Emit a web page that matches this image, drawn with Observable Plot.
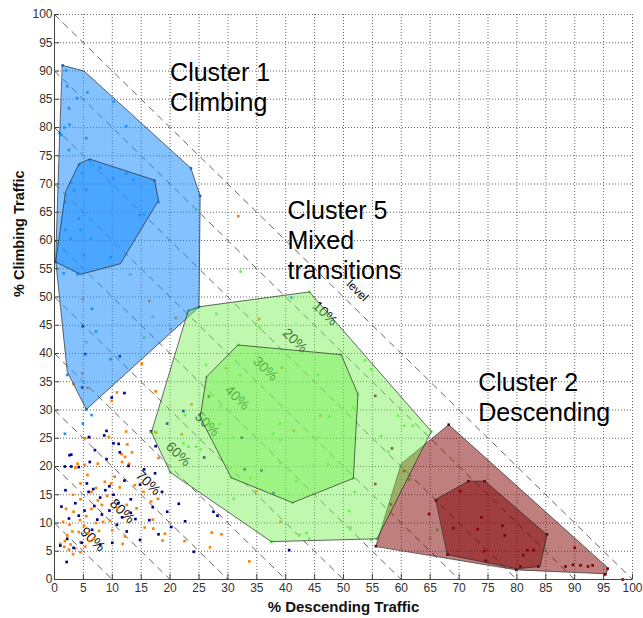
<!DOCTYPE html>
<html><head><meta charset="utf-8">
<script src="https://cdn.jsdelivr.net/npm/d3@7"></script>
<script src="https://cdn.jsdelivr.net/npm/@observablehq/plot@0.6"></script>
<style>body{margin:0;background:#fff} svg{display:block}</style>
</head><body><div id="chart"></div>
<script>
// ---- tick values ----
const axisTicks = d3.range(0, 101, 5);
// ---- level lines (x + y = sum) and their labels ----
const levelSums = [10, 20, 30, 40, 50, 60, 70, 80, 90, 100];
const levelLabels = ["level", "10%", "20%", "30%", "40%", "50%", "60%", "70%", "80%", "90%"];
const levelLabelX = [52.4, 46.8, 41.6, 36.5, 31.6, 26.4, 21.4, 16.2, 11.7, 6.6];
const levelLabelY = [51.1, 47.1, 42.3, 37.3, 32.2, 27.5, 22.2, 17.1, 12.1, 7.1];

// ---- cluster hull vertices [descending %, climbing %] ----
const c1Outer = [[1.4,91],[5.1,90],[23.6,72.8],[25.2,67.9],[25,48.2],[5.5,30.1],[2.2,36.8],[0.2,56.5],[0.9,79]];
const c1Inner = [[6.1,74.4],[17.3,70.7],[18,67.1],[11.4,55.9],[4.5,54],[0.2,56.2],[1.9,68.6],[4.2,73.5]];
const c5Outer = [[23.2,47.6],[25.2,48.3],[44.1,50.9],[65.2,26.2],[55.8,7.2],[37.5,6.7],[20,19],[16.8,26]];
const c5Inner = [[31.8,41.5],[49.6,39.8],[52.5,32.8],[51.7,17.9],[41.2,13.6],[30.6,18],[25.2,28.7],[26.3,35.8]];
const c2Outer = [[55.6,5.9],[60,20.5],[68.2,27.4],[95.7,2.1],[95.5,1],[80,1.7]];
const c2Inner = [[66,14.2],[71.6,17.4],[74.5,17.4],[85.2,7.9],[84,2.3],[80,1.9],[68,4.4]];

// ---- scatter points per cluster ----
const ptsBlue = [[1.4,91],[2,90.1],[2.2,87.3],[3.9,85.2],[5.7,86.2],[2.5,83.4],[2.6,80.5],[1.7,80],[1.2,78.7],[2.5,76],[10.2,84.6],[12.4,80.2],[5.5,78.1],[6.1,74.2],[7.9,72.9],[4.3,73.4],[2.9,70.2],[3.4,68.9],[5.5,69],[4.8,71.9],[10.2,70.9],[12.4,71.9],[13.7,70.7],[17.3,70.6],[23.6,72.8],[25.2,67.9],[1.9,66.8],[1.9,61.9],[2.8,60.3],[4.2,63.9],[4.5,61.9],[6.3,60.3],[5.1,57.4],[9.7,57],[4,54],[1.6,54.2],[0.3,56.2],[14.8,64.5],[18,66.8],[25,48.2],[6.5,47.9],[7.2,43.9],[9.7,39],[2.2,36.2],[5.5,30.1],[6.4,29.1],[4.9,27.6],[1.8,25.8],[41,49.9],[0.9,79]];
const ptsGreen = [[24.5,65.5],[13.1,54],[5.5,42],[15.5,42.8],[17,46.5],[23.2,47.6],[28,47],[44.1,50.9],[32.2,54.5],[35.5,44.6],[31.8,41.5],[53.7,38.8],[54.8,37.2],[49.6,39.8],[32.1,36.2],[45.6,36.2],[52.5,32.8],[51.7,30.4],[59.4,29],[60.5,27.2],[62,27.2],[65.2,26.2],[56.5,25.4],[39,27.6],[45.6,25.1],[28.6,27.5],[47.5,28.8],[37.8,25.8],[39.1,24.7],[31,25.1],[57.8,22.6],[33.9,18],[31,14.3],[41.8,17.4],[39.1,20.7],[47.3,20.4],[52,15.5],[51,12.1],[51.2,9.2],[42.4,7.9],[43.6,8.2],[44.1,7.2],[37.5,6.7],[54.8,7],[61.4,17.7],[26.2,38],[28.7,30.7],[22.6,29.1],[25.3,24.8],[22.3,24.1],[23.2,23.5],[24.5,23.5],[25.3,23],[16.8,26],[20,19],[41.2,13.6],[30.6,18],[25.2,28.7],[26.3,35.8],[51.7,17.9],[55.8,7.2],[66.2,8.8],[65,7.2]];
const ptsRed = [[68.2,27.4],[71.6,17.4],[74.4,17.4],[70.2,15.6],[66,14],[64.8,11.6],[69,9.1],[73.9,11],[73.2,8.9],[77.5,9.5],[77.9,7.8],[85.2,8],[74.3,5],[74.6,3.3],[68,4.4],[81.8,5.2],[82.9,5.2],[81.1,4.3],[83.7,2.3],[79.9,1.7],[80.6,2.3],[90,5.6],[88.4,2.3],[89.7,2.6],[91,2.5],[92.3,2.3],[93.1,2.5],[95.7,1.9],[95.3,0.9],[98.3,0],[55.5,32.5],[58.4,23.2],[55.5,16.9],[58.2,13.3],[60.5,19.2],[55.6,5.9]];
const ptsOrange = [[5.9,25.2],[9.4,25.2],[12.4,26.2],[5.3,25],[12.6,23.9],[11.6,22.2],[12.2,21.7],[13.4,22.5],[4,20.5],[3.6,19.8],[5.2,20.3],[7.5,20.5],[11.7,20.8],[12.9,20.5],[5.7,18.5],[4.5,17],[8.7,17.3],[10.4,18.2],[9.8,17],[11.3,16.3],[13.9,16.7],[15.4,15.5],[16.7,13.8],[17.9,14.3],[7.2,16.2],[6.4,15.5],[3.2,15],[4.5,14.2],[7.5,14],[8.2,13.2],[9.1,14.8],[10.9,12.7],[12.5,13.2],[14.2,12.6],[2,12.5],[3.3,12],[4.4,10.5],[5.5,11.2],[6.4,12.5],[7.2,10],[8.4,10.2],[9.6,10.4],[1.5,10.2],[2.6,9.7],[3.1,8.5],[4.2,8.4],[5.1,9.5],[5.8,8.2],[6.8,7.2],[7.7,8.6],[2.2,7.8],[1.8,6.8],[1,6.3],[2.8,6.2],[3.6,5.5],[4.5,6.6],[5.3,5.8],[6,6.8],[3.2,4.5],[4.5,4.8],[2.5,5.3],[1.7,5.8],[12.2,7.6],[15.6,9.2],[17.1,9],[19.1,8.1],[18.7,6.9],[17,10.6],[10,8.7],[11.8,6.3],[22.5,6.8],[26.9,5.7],[27.2,8.3],[28.9,8],[33.7,3.2],[18,21.5],[15.1,38.2],[17.5,33.3],[10.8,33.1],[9.9,31.6],[3.3,34.6],[31.8,64.3],[4.9,49.6],[16.4,49.3],[21,46.3],[20.1,44.3],[4.8,36.5],[5.7,33.9],[17.4,26.1],[35.4,46.1],[29.7,37.4],[39.3,37.5],[46,29],[41.4,26.3],[34.9,15.6],[39.1,10.2],[23.7,31],[17.6,26],[22,25.7]];
const ptsNavy = [[1.9,15.8],[1.2,12.9],[2.9,20],[4.2,19.9],[2.9,22.1],[6.1,20.8],[8.6,25.5],[10.2,24.1],[11.3,22.5],[12.8,20.1],[9,21.3],[7,22.9],[1.8,20],[2.6,22],[5.6,17],[5.9,15.5],[6.7,16],[7.9,14.5],[8.8,15.8],[9.5,16.5],[10.2,15],[11,13.5],[12.1,17.5],[13.2,14.2],[14.8,16.8],[15.5,19.5],[17.4,18.8],[18.6,15.5],[19.5,12],[17,12.8],[16.4,10.5],[14,10.7],[13.2,11.8],[11.7,11],[10.8,9.7],[9.5,12.2],[8.2,11.5],[7.4,10.6],[6.9,13],[5.2,12.2],[4.2,11.3],[3.6,13.5],[2.5,10.8],[2.2,7.2],[1,6],[3.3,5.6],[4.7,6.5],[6.5,8.8],[7.9,6.2],[10,6.5],[12.5,8.5],[14.8,7],[18,8],[20.2,9.3],[21.5,13.4],[22.6,10.3],[24.1,4.9],[27.5,12],[28.2,11.3],[40.6,5.2],[2.1,3.1],[4.9,44.8],[5.3,39.9],[11.3,39.5],[4.8,34],[12.1,33],[9.9,32.2],[9,26.3],[6,25.2],[11.1,24],[16.7,26.2],[26.7,32.4],[32.4,25.1],[25.9,21.6],[32.9,19.5],[35.8,19.3],[37.9,15.3],[19.5,27.6],[22.3,29.8],[17.5,23.6]];

// ---- annotations ----
const clusterText = ["Cluster 1\nClimbing", "Cluster 5\nMixed\ntransitions", "Cluster 2\nDescending"];
const clusterTextX = [20.0, 40.3, 73.3];
const clusterTextY = [82.9, 53.2, 28.1];
const xTitle = "% Descending Traffic";
const yTitle = "% Climbing Traffic";

const labelRows = levelLabels.map((t, i) => ({t, x: levelLabelX[i], y: levelLabelY[i]}));
const annRows = clusterText.map((t, i) => ({t, x: clusterTextX[i], y: clusterTextY[i]}));
const FONT = "'Liberation Sans', Arial, Helvetica, sans-serif";

const hull = (data, fill, op) => Plot.line(data, {curve: "linear-closed", fill, fillOpacity: op, stroke: "#222", strokeOpacity: 0.85, strokeWidth: 0.8});
const dots = (data, fill) => Plot.dot(data, {symbol: "square", r: 1.5, fill, stroke: "none"});

const chart = Plot.plot({
  width: 643, height: 618,
  marginLeft: 54, marginRight: 11, marginTop: 14, marginBottom: 39,
  style: {fontFamily: FONT, background: "#fff", overflow: "visible"},
  x: {domain: [0, 100], axis: null},
  y: {domain: [0, 100], axis: null},
  marks: [
    // dotted grid
    Plot.ruleX(axisTicks, {stroke: "#555", strokeOpacity: 0.9, strokeDasharray: "1,2", strokeWidth: 1}),
    Plot.ruleY(axisTicks, {stroke: "#555", strokeOpacity: 0.9, strokeDasharray: "1,2", strokeWidth: 1}),
    // level lines
    Plot.link(levelSums, {x1: d => 0, y1: d => d, x2: d => d, y2: d => 0, stroke: "#555", strokeWidth: 0.9, strokeDasharray: "7,5"}),
    Plot.text(labelRows, {x: "x", y: "y", text: "t", rotate: 44, fontSize: d => d.t === "level" ? 12 : 14, fontWeight: d => d.t === "level" ? "bold" : "normal", fill: "#111"}),
    // points
    dots(ptsOrange, "#ff8000"),
    dots(ptsNavy, "#00008b"),
    dots(ptsGreen, "#6bf05a"),
    dots(ptsBlue, "#1e90ff"),
    dots(ptsRed, "#8b0000"),
    // hulls
    hull(c1Outer, "#1e90ff", 0.55),
    hull(c1Inner, "#1e90ff", 0.55),
    hull(c2Outer, "#800000", 0.5),
    hull(c2Inner, "#800000", 0.5),
    hull(c5Outer, "#73f050", 0.45),
    hull(c5Inner, "#73f050", 0.45),
    // axis lines and inward ticks
    Plot.ruleX([0], {stroke: "#444", strokeWidth: 1}),
    Plot.ruleY([0], {stroke: "#444", strokeWidth: 1}),
    Plot.ruleX(axisTicks, {x: d => d, y1: d => 0, y2: d => 0.9, stroke: "#444"}),
    Plot.ruleY(axisTicks, {y: d => d, x1: d => 0, x2: d => 0.87, stroke: "#444"}),
    Plot.axisX(axisTicks, {tickSize: 0, tickPadding: 4, fontSize: 12, label: null, color: "#333"}),
    Plot.axisY(axisTicks, {tickSize: 0, tickPadding: 2, fontSize: 12, label: null, color: "#333"}),
    // cluster annotations
    Plot.text(annRows, {x: "x", y: "y", text: "t", textAnchor: "start", lineAnchor: "bottom", lineHeight: 1.2, fontSize: 25, fill: "#000"}),
    // axis titles
    Plot.text([xTitle], {text: d => d, frameAnchor: "bottom", lineAnchor: "bottom", dy: 32, fontSize: 15, fontWeight: "bold", fill: "#111"}),
    Plot.text([yTitle], {text: d => d, frameAnchor: "left", rotate: -90, dx: -35.5, fontSize: 14.5, fontWeight: "bold", fill: "#111"})
  ]
});
document.getElementById("chart").appendChild(chart);
</script>
</body></html>
